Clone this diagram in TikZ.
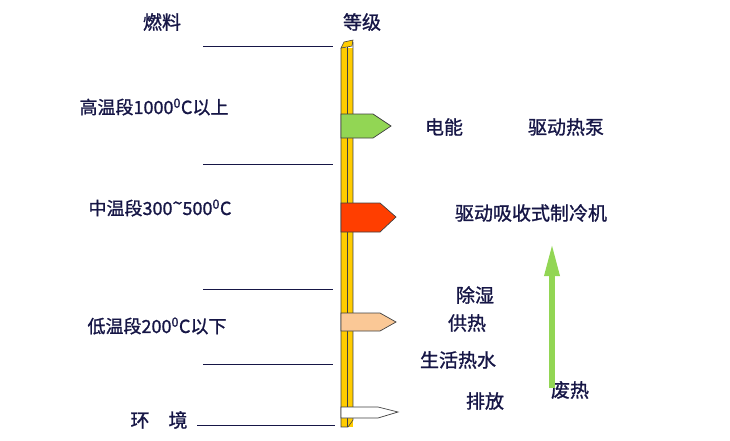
\documentclass[tikz,border=0pt]{standalone}
\usepackage{fontspec}
\setmainfont{Noto Sans CJK SC}[FakeBold=1.2]
\usetikzlibrary{arrows.meta}

\definecolor{LabelNavy}{RGB}{22,22,70}
\definecolor{PoleYellow}{RGB}{255,204,0}
\definecolor{FlagGreen}{RGB}{146,214,84}
\definecolor{FlagRed}{RGB}{255,62,0}
\definecolor{FlagPeach}{RGB}{250,200,150}
\definecolor{HeatGreen}{RGB}{146,214,84}

\begin{document}
\begin{tikzpicture}[x=1pt, y=-1pt,
    lbl/.style={font=\fontsize{19}{21}\selectfont, text=LabelNavy, inner sep=0pt},
    templbl/.style={lbl, font=\fontsize{18}{20}\selectfont},
    sepline/.style={draw=LabelNavy, line width=0.8pt},
    flag/.style={draw=black!75, line width=0.7pt},
    heatarrow/.style={draw=HeatGreen, line width=6pt, -{Triangle[length=33pt, width=14pt]}}]
    \useasboundingbox (0,0) rectangle (730,440);

    % headings
    \node[lbl] (fuel) at (162,22) {燃料};
    \node[lbl] (grade) at (362,22) {等级};

    % temperature bands on the left
    \node[templbl] (high) at (154,107) {高温段1000\textsuperscript{0}C以上};
    \node[templbl] (mid) at (160,208) {中温段300\raisebox{0.55ex}{\textasciitilde}500\textsuperscript{0}C};
    \node[templbl] (low) at (157,326) {低温段200\textsuperscript{0}C以下};
    \node[lbl] (env) at (159,420) {环\quad 境};

    % band separators
    \draw[sepline] (203,46) -- (333,46);
    \draw[sepline] (203,164) -- (333,164);
    \draw[sepline] (203,289) -- (333,289);
    \draw[sepline] (203,364) -- (333,364);
    \draw[sepline] (197,425) -- (335,425);

    % the grade pole
    \fill[PoleYellow] (341,48) rectangle (353,427);
    \draw[black!75, line width=0.6pt] (341,48) -- (341,427) -- (348,427) -- (353,420) -- (353,42);
    \draw[black!75, line width=0.6pt] (347,47) -- (347,427);
    \filldraw[fill=PoleYellow, draw=black!75, line width=0.6pt]
        (341,48) -- (344,42) -- (353,40) -- (352,46) -- (347,47) -- cycle;

    % flags on the pole
    \filldraw[flag, fill=FlagGreen] (341,114) -- (373,114) -- (391,126) -- (373,138) -- (341,138) -- cycle;
    \filldraw[flag, fill=FlagRed] (341,203) -- (380,203) -- (396,217) -- (380,232) -- (341,232) -- cycle;
    \filldraw[flag, fill=FlagPeach] (341,313) -- (380,313) -- (396,322) -- (380,331) -- (341,331) -- cycle;
    \filldraw[flag, fill=white] (341,407) -- (378,407) -- (398,412) -- (378,418) -- (341,418) -- cycle;

    % uses on the right
    \node[lbl] (power) at (444,127) {电能};
    \node[lbl] (pump) at (566,127) {驱动热泵};
    \node[lbl] (chiller) at (531,213) {驱动吸收式制冷机};
    \node[lbl] (dehum) at (475,295) {除湿};
    \node[lbl] (heating) at (467,323) {供热};
    \node[lbl] (hotwater) at (458,360) {生活热水};
    \node[lbl] (exhaust) at (485,401) {排放};
    \node[lbl] (waste) at (570,390) {废热};

    % rising waste heat
    \coordinate (heatfoot) at (552,388);
    \coordinate (heattop) at (552,243);
    \draw[heatarrow] (heatfoot) -- (heattop);
\end{tikzpicture}
\end{document}
